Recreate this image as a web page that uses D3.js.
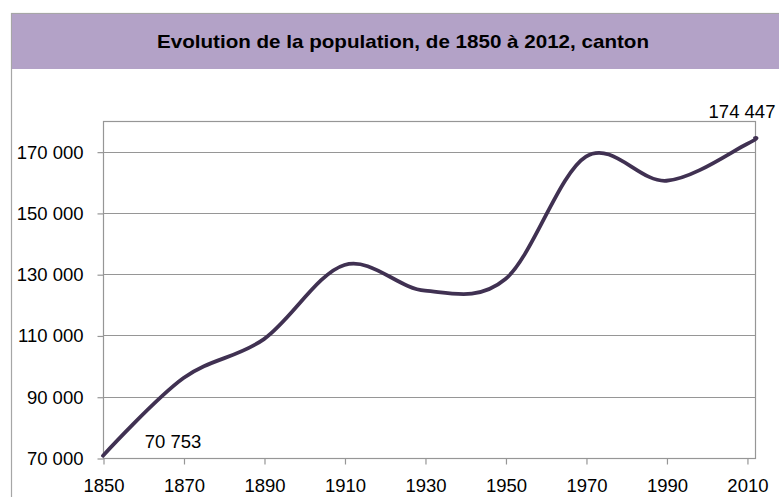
<!DOCTYPE html>
<html>
<head>
<meta charset="utf-8">
<script src="https://cdn.jsdelivr.net/npm/d3@7"></script>
<style>
  html, body { margin: 0; padding: 0; background: #fff; }
  svg { display: block; }
</style>
</head>
<body>
<svg id="chart" width="779" height="497"></svg>
<script>
const title = "Evolution de la population, de 1850 à 2012, canton";
const years = [1850, 1870, 1890, 1910, 1930, 1950, 1970, 1990, 2010, 2012];
const population = [70753, 96100, 108800, 133000, 124600, 128400, 168400, 160500, 172500, 174447];
const xTicks = [1850, 1870, 1890, 1910, 1930, 1950, 1970, 1990, 2010];
const yTicks = [70000, 90000, 110000, 130000, 150000, 170000];

const svg = d3.select("#chart");
const W = 779, H = 497;
const plot = { left: 103, top: 121, right: 755, bottom: 458 };

const locale = d3.formatLocale({ decimal: ",", thousands: "\u00a0", grouping: [3], currency: ["", "€"] });
const fmt = locale.format(",d");

// outer frame
svg.append("rect").attr("x", 11.5).attr("y", 13.5).attr("width", W + 20).attr("height", H + 20)
  .attr("fill", "#fff").attr("stroke", "#a6a6a6").attr("stroke-width", 1.2);
// title band
svg.append("rect").attr("x", 12).attr("y", 14).attr("width", W).attr("height", 55)
  .attr("fill", "#b3a2c7");
svg.append("text").attr("x", 403).attr("y", 48).attr("text-anchor", "middle")
  .attr("font-family", "Liberation Sans, Arial, sans-serif").attr("font-weight", "bold")
  .attr("font-size", 19).attr("fill", "#000")
  .attr("textLength", 492).attr("lengthAdjust", "spacingAndGlyphs")
  .text(title);

const x = d3.scaleLinear().domain([1850, 2012]).range([plot.left, plot.right]);
const y = d3.scaleLinear().domain([70000, 180000]).range([plot.bottom, plot.top]);

// gridlines
svg.append("g").selectAll("line").data(yTicks).join("line")
  .attr("x1", plot.left).attr("x2", plot.right)
  .attr("y1", d => Math.round(y(d)) + 0.5).attr("y2", d => Math.round(y(d)) + 0.5)
  .attr("stroke", "#969696").attr("stroke-width", 1.2);

// plot border
svg.append("rect").attr("x", plot.left + 0.5).attr("y", plot.top + 0.5)
  .attr("width", plot.right - plot.left).attr("height", plot.bottom - plot.top)
  .attr("fill", "none").attr("stroke", "#969696").attr("stroke-width", 1.2);

const fontFam = "Liberation Sans, Arial, sans-serif";

// y axis
const yAxis = svg.append("g").attr("transform", `translate(${plot.left + 0.5},0.5)`)
  .call(d3.axisLeft(y).tickValues(yTicks).tickFormat(fmt).tickSize(6).tickPadding(14));
yAxis.select(".domain").remove();
yAxis.selectAll(".tick line").attr("stroke", "#969696").attr("stroke-width", 1.2);
yAxis.selectAll("text").attr("font-family", fontFam).attr("font-size", 18.5).attr("fill", "#000");

// x axis
const xAxis = svg.append("g").attr("transform", `translate(0.5,${plot.bottom + 0.5})`)
  .call(d3.axisBottom(x).tickValues(xTicks).tickFormat(d3.format("d")).tickSize(6).tickPadding(14));
xAxis.select(".domain").remove();
xAxis.selectAll(".tick line").attr("stroke", "#969696").attr("stroke-width", 1.2);
xAxis.selectAll("text").attr("font-family", fontFam).attr("font-size", 18.5).attr("fill", "#000");

// line (Excel-style smoothing)
const pts = years.map((yr, i) => [yr, population[i]]);
const line = d3.line().x(d => x(d[0])).y(d => y(d[1])).curve(d3.curveCardinal.tension(0));
svg.append("path").datum(pts).attr("d", line)
  .attr("fill", "none").attr("stroke", "#403152").attr("stroke-width", 3.8)
  .attr("stroke-linecap", "round").attr("stroke-linejoin", "round");

// data labels (first & last)
const first = pts[0], last = pts[pts.length - 1];
svg.append("text").attr("x", x(first[0]) + 70).attr("y", y(first[1]) - 8)
  .attr("text-anchor", "middle").attr("font-family", fontFam).attr("font-size", 18.5)
  .attr("fill", "#000").text(fmt(first[1]));
svg.append("text").attr("x", x(last[0]) - 13).attr("y", y(last[1]) - 20)
  .attr("text-anchor", "middle").attr("font-family", fontFam).attr("font-size", 18.5)
  .attr("fill", "#000").text(fmt(last[1]));
</script>
</body>
</html>
